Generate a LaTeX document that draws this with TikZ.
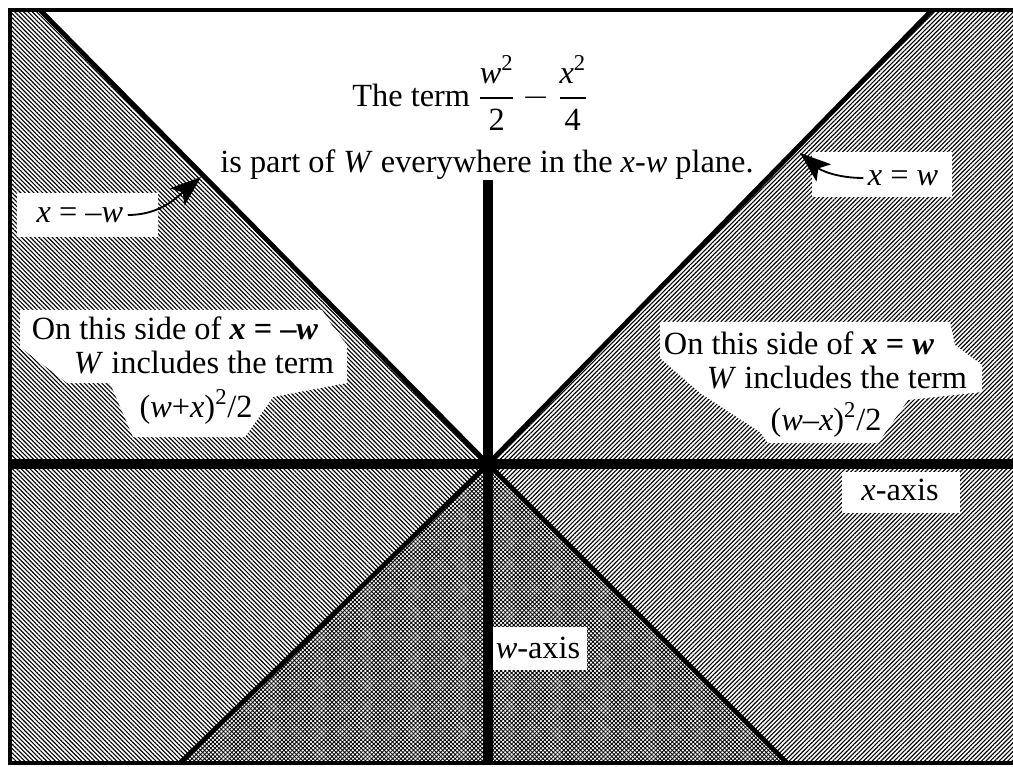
\documentclass[tikz,border=0pt]{standalone}
\usepackage{amsmath}
\usepackage{fontspec}
\setmainfont{Liberation Serif}
\usetikzlibrary{patterns.meta,arrows.meta}

\tikzset{
  leftside/.style={pattern={Lines[angle=-45,distance=2.2pt,line width=0.8pt]}},
  rightside/.style={pattern={Lines[angle=45,distance=2.2pt,line width=0.8pt]}},
  lowside/.style={pattern={Hatch[angle=45,distance=2.1pt,line width=0.6pt]}},
  lbl/.style={font=\fontsize{23}{27}\selectfont, inner sep=3pt},
  mask/.style={fill=white},
  border/.style={line width=2.8pt},
  axisline/.style={line width=6.6pt},
  diag/.style={line width=3.4pt},
  pointer/.style={line width=1.3pt,-{Stealth[length=22pt,width=16pt,inset=5pt]}},
}

\begin{document}
\begin{tikzpicture}[x=0.025cm,y=-0.025cm]
  \useasboundingbox (0,0) rectangle (1013,767);
  % corners of the lines
  \coordinate (O) at (488,464);
  \coordinate (TL) at (40,10);
  \coordinate (TR) at (932,10);
  \coordinate (BL) at (180,763);
  \coordinate (BR) at (787,763);
  % shaded regions
  \fill[leftside] (10,10) -- (TL) -- (O) -- (BL) -- (10,763) -- cycle;
  \fill[rightside] (TR) -- (1013,10) -- (1013,763) -- (BR) -- (O) -- cycle;
  \fill[lowside] (O) -- (BL) -- (BR) -- cycle;
  % white patches under the labels
  \fill[mask] (20,310) -- (322,310) -- (335,330) -- (347,345) -- (347,383) -- (273,397)
    -- (245,437) -- (133,437) -- (110,383) -- (67,383) -- (20,347) -- cycle;
  \fill[mask] (660,322) -- (950,322) -- (955,345) -- (982,365) -- (982,392) -- (908,400)
    -- (878,443) -- (768,443) -- (760,432) -- (700,393) -- (660,358) -- cycle;
  \fill[mask] (17,193) rectangle (158,237);
  \fill[mask] (812,152) rectangle (952,197);
  \fill[mask] (842,472) rectangle (960,513);
  \fill[mask] (493,627) rectangle (587,670);
  % frame, axes and the two lines
  \draw[border] (1013,10) -- (10,10) -- (10,763) -- (1013,763);
  \draw[diag] (TL) -- (O) -- (BR);
  \draw[diag] (TR) -- (O) -- (BL);
  \draw[axisline] (10,464) -- (1013,464);
  \draw[axisline] (488,180) -- (488,763);
  % labels
  \node[lbl] (top1) at (470,93) {The term $\dfrac{\textit{w}^{\text{2}}}{\text{2}} - \dfrac{\textit{x}^{\text{2}}}{\text{4}}$};
  \node[lbl] (top2) at (487,165) {is part of \textit{W} everywhere in the \textit{x}-\textit{w} plane.};
  \node[lbl] (lblL) at (80,215) {\textit{x}~=~--\textit{w}};
  \node[lbl] (lblR) at (903,178) {\textit{x}~=~\textit{w}};
  \node[lbl] (sideL1) at (175,328) {On this side of \textbf{\textit{x}~=~--\textit{w}}};
  \node[lbl] (sideL2) at (204,363) {\textit{W} includes the term};
  \node[lbl] (sideL3) at (196,407) {(\textit{w}+\textit{x})\textsuperscript{2}/2};
  \node[lbl] (sideR1) at (799,343) {On this side of \textbf{\textit{x}~=~\textit{w}}};
  \node[lbl] (sideR2) at (837,378) {\textit{W} includes the term};
  \node[lbl] (sideR3) at (826,420) {(\textit{w}--\textit{x})\textsuperscript{2}/2};
  \node[lbl] (xaxis) at (900,490) {\textit{x}-axis};
  \node[lbl] (waxis) at (538,648) {\textit{w}-axis};
  % arrows to the lines
  \coordinate (tipL) at (201,177);
  \coordinate (tipR) at (800,153);
  \draw[pointer] (lblL.east) to[out=0,in=-140] (tipL);
  \draw[pointer] (lblR.west) to[out=180,in=-40] (tipR);
\end{tikzpicture}
\end{document}
